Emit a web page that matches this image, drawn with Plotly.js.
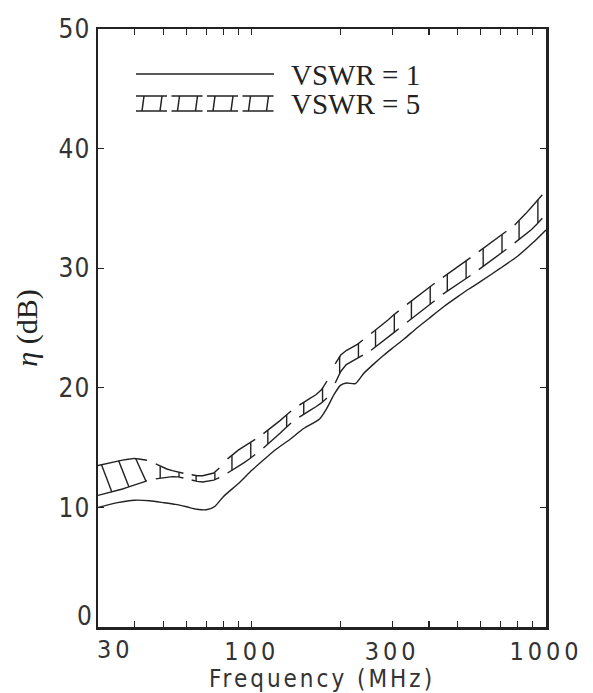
<!DOCTYPE html>
<html>
<head>
<meta charset="utf-8">
<script src="https://cdn.plot.ly/plotly-3.0.1.min.js"></script>
<style>
  html, body { margin: 0; padding: 0; background: #fff; }
  #chart { width: 593px; height: 693px; }
  .xtick text { letter-spacing: 4px; }
  .ytick text { letter-spacing: 1px; }
  .g-xtitle text { letter-spacing: 3px; }
</style>
</head>
<body>
<div id="chart"></div>
<script>
// ---- data ----
const freqSolid = [30,35,40,45,50,55,60,65,70,75,80,90,100,110,120,135,150,170,180,190,200,210,225,240,260,280,300,330,360,400,450,500,550,600,700,800,900,1000];
const etaVswr1  = [10.0,10.4,10.6,10.55,10.4,10.25,10.05,9.85,9.8,10.1,10.9,12.0,13.1,14.0,14.8,15.7,16.6,17.4,18.3,19.4,20.2,20.4,20.35,21.2,22.0,22.7,23.3,24.1,24.9,25.8,26.8,27.6,28.3,28.9,30.0,31.0,32.1,33.2];

const freqBand   = [30,35,40,45,50,55,60,67,75,83,90,100,110,120,135,150,170,185,195,205,225,250,280,300,350,400,450,500,600,700,800,900,1000];
const etaVswr5Lo = [11.0,11.4,11.9,12.3,12.5,12.6,12.4,12.1,12.3,12.9,13.4,14.2,15.0,15.8,17.0,17.8,18.6,19.4,20.8,21.8,22.4,23.0,23.9,24.5,25.8,26.9,27.9,28.6,30.0,31.2,32.3,33.3,34.5];
const etaVswr5Hi = [13.5,13.9,14.1,13.9,13.3,13.0,12.8,12.6,12.9,14.1,14.8,15.5,16.2,16.9,18.0,18.8,19.6,21.0,22.4,23.0,23.5,24.4,25.3,26.0,27.3,28.4,29.3,30.1,31.5,32.7,33.8,35.2,36.5];

const xTickVals  = [30,40,50,60,70,80,90,100,200,300,400,500,600,700,800,900,1000];
const xTickText  = ['','','','','','','','100','','300','','','','','','','1000'];
const yTickVals  = [0,10,20,30,40,50];
const yTickText  = ['','10','20','30','40','50'];
const legendNames = ['VSWR = 1', 'VSWR = 5'];

// ---- helpers ----
const lg = Math.log10;
function interp(xs, ys, f) {
  const lf = lg(f);
  if (f <= xs[0]) return ys[0];
  for (let i = 1; i < xs.length; i++) {
    if (f <= xs[i]) {
      const a = lg(xs[i-1]), b = lg(xs[i]);
      const t = (lf - a) / (b - a);
      return ys[i-1] + t * (ys[i] - ys[i-1]);
    }
  }
  return ys[ys.length-1];
}

const INK = '#222';
const lmin = lg(freqBand[0]), lmax = lg(freqBand[freqBand.length-1]);

// band: continuous part with diagonal hatching at the low end, ladder squares after
const bx = [], by = [];
const contEnd = lg(44);
function pushSeg(arr, l0, l1, n) {
  const xs = [], ys = [];
  for (let k = 0; k <= n; k++) {
    const l = l0 + (l1 - l0) * k / n;
    const f = Math.pow(10, l);
    xs.push(f); ys.push(interp(freqBand, arr, f));
  }
  return [xs, ys];
}
function addPoly(p) { bx.push(...p[0], null); by.push(...p[1], null); }

addPoly(pushSeg(etaVswr5Hi, lmin, contEnd, 12));
addPoly(pushSeg(etaVswr5Lo, lmin, contEnd, 12));
for (let k = 0; k < 3; k++) {
  const lu = lmin + 0.012 + k * 0.058;
  const ll = lu + 0.035;
  const fu = Math.pow(10, lu), fl = Math.pow(10, ll);
  bx.push(fu, fl, null);
  by.push(interp(freqBand, etaVswr5Hi, fu), interp(freqBand, etaVswr5Lo, fl), null);
}
const P = 0.122, L = 0.094;
for (let a = contEnd + 0.03; a < lmax - 0.005; a += P) {
  const b = Math.min(a + L, lmax);
  addPoly(pushSeg(etaVswr5Hi, a, b, 5));
  addPoly(pushSeg(etaVswr5Lo, a, b, 5));
  const ins = (b - a) * 0.16;
  for (const l of [a + ins, b - ins]) {
    const f = Math.pow(10, l);
    bx.push(f, f, null);
    by.push(interp(freqBand, etaVswr5Hi, f), interp(freqBand, etaVswr5Lo, f), null);
  }
}

const traces = [
  { x: freqSolid, y: etaVswr1, type: 'scatter', mode: 'lines', name: legendNames[0],
    line: { color: INK, width: 1.4, shape: 'spline', smoothing: 0.6 }, showlegend: false, hoverinfo: 'skip' },
  { x: bx, y: by, type: 'scatter', mode: 'lines', name: legendNames[1],
    line: { color: INK, width: 1.4 }, connectgaps: false, showlegend: false, hoverinfo: 'skip' }
];

// ---- legend drawn in pixel positions (converted to paper) ----
const M = { l: 98, r: 47, t: 29, b: 66 };
const PW = 593 - M.l - M.r, PH = 693 - M.t - M.b;
const px = x => (x - M.l) / PW;
const py = y => (693 - M.b - y) / PH;
const shapes = [
  { type: 'line', xref: 'paper', yref: 'paper', x0: px(136), x1: px(274), y0: py(74), y1: py(74), line: { color: INK, width: 1.6 } }
];
for (let k = 0; k < 4; k++) {
  const x0 = 136 + k * 35.5, x1 = x0 + 31;
  shapes.push({ type: 'line', xref: 'paper', yref: 'paper', x0: px(x0), x1: px(x1), y0: py(96), y1: py(96), line: { color: INK, width: 1.5 } });
  shapes.push({ type: 'line', xref: 'paper', yref: 'paper', x0: px(x0), x1: px(x1), y0: py(111), y1: py(111), line: { color: INK, width: 1.5 } });
  shapes.push({ type: 'line', xref: 'paper', yref: 'paper', x0: px(x0 + 8), x1: px(x0 + 6), y0: py(96), y1: py(111), line: { color: INK, width: 1.5 } });
  shapes.push({ type: 'line', xref: 'paper', yref: 'paper', x0: px(x1 - 5), x1: px(x1 - 7), y0: py(96), y1: py(111), line: { color: INK, width: 1.5 } });
}

const serif = 'Liberation Serif, DejaVu Serif, serif';
const narrow = 'Liberation Sans Narrow, DejaVu Sans Condensed, Arial Narrow, sans-serif';
const annotations = [
  { xref: 'paper', yref: 'paper', x: px(289), y: py(75), xanchor: 'left', yanchor: 'middle', showarrow: false,
    text: legendNames[0], font: { family: serif, size: 29, color: INK } },
  { xref: 'paper', yref: 'paper', x: px(289), y: py(104), xanchor: 'left', yanchor: 'middle', showarrow: false,
    text: legendNames[1], font: { family: serif, size: 29, color: INK } },
  { xref: 'x', yref: 'paper', x: lg(30), y: 0, xanchor: 'center', yanchor: 'top', xshift: 17, yshift: -6, showarrow: false,
    text: '<span style="letter-spacing:4px">30</span>', font: { family: narrow, size: 25, color: '#333' } },
  { xref: 'paper', yref: 'y', x: 0, y: 0, xanchor: 'right', yanchor: 'middle', xshift: -4, yshift: 11, showarrow: false,
    text: '0', font: { family: narrow, size: 26, color: '#333' } }
];

const axisCommon = {
  showgrid: false, zeroline: false, showline: true, linecolor: INK, linewidth: 2.5,
  mirror: 'ticks', ticks: 'inside', ticklen: 6, tickwidth: 1.3, tickcolor: INK,
  tickfont: { family: narrow, size: 26, color: '#333' }
};

const layout = {
  width: 593, height: 693,
  margin: M,
  paper_bgcolor: '#fff', plot_bgcolor: '#fff',
  showlegend: false,
  xaxis: Object.assign({}, axisCommon, {
    type: 'log', range: [lg(30), lg(1000)], tickmode: 'array', tickvals: xTickVals, ticktext: xTickText,
    tickfont: { family: narrow, size: 25, color: '#333' },
    title: { text: 'Frequency (MHz)', font: { family: narrow, size: 24, color: '#333' }, standoff: 9 }
  }),
  yaxis: Object.assign({}, axisCommon, {
    range: [0, 50], tickmode: 'array', tickvals: yTickVals, ticktext: yTickText,
    title: { text: '<i>η</i> (dB)', font: { family: serif, size: 30, color: INK }, standoff: 12 }
  }),
  shapes: shapes,
  annotations: annotations
};

Plotly.newPlot('chart', traces, layout, { staticPlot: true, displayModeBar: false });
</script>
</body>
</html>
